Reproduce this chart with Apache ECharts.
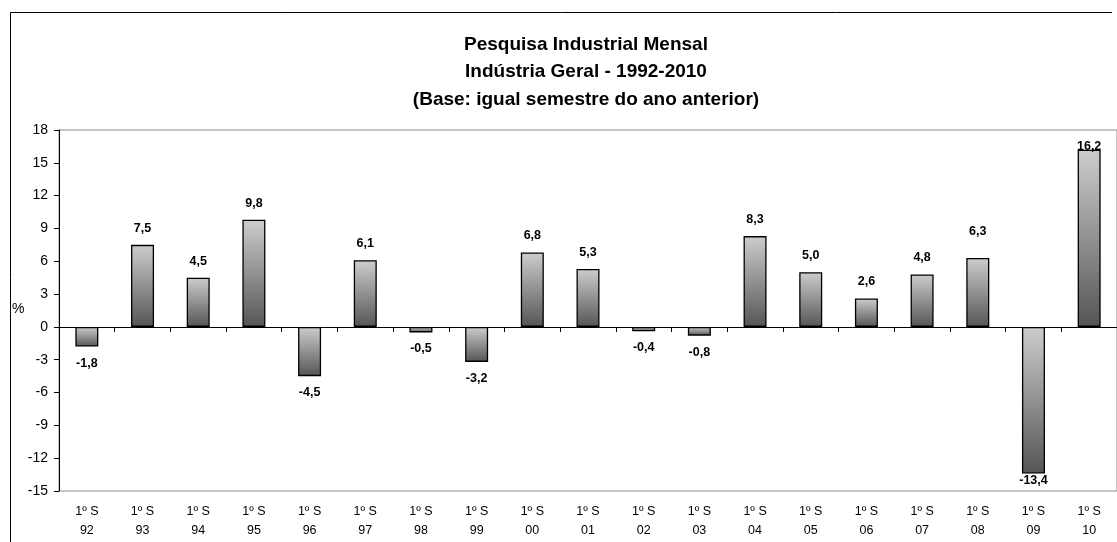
<!DOCTYPE html>
<html>
<head>
<meta charset="utf-8">
<script src="https://cdn.jsdelivr.net/npm/echarts@6/dist/echarts.min.js"></script>
<style>
html,body{margin:0;padding:0;background:#fff;}
#chart{width:1117px;height:542px;}
</style>
</head>
<body>
<div id="chart"></div>
<script>
var categories = ['92','93','94','95','96','97','98','99','00','01','02','03','04','05','06','07','08','09','10'];
var values = [-1.8, 7.5, 4.5, 9.8, -4.5, 6.1, -0.5, -3.2, 6.8, 5.3, -0.4, -0.8, 8.3, 5.0, 2.6, 4.8, 6.3, -13.4, 16.2];
var yTicks = [18, 15, 12, 9, 6, 3, 0, -3, -6, -9, -12, -15];
var titleLines = ['Pesquisa Industrial Mensal', 'Indústria Geral - 1992-2010', '(Base: igual semestre do ano anterior)'];

var FONT = 'Liberation Sans, Arial, sans-serif';
var labelDist = {16: 20, 17: 1, 18: -3};

var barGradient = {
  type: 'linear', x: 0, y: 0, x2: 0, y2: 1,
  colorStops: [{offset: 0, color: '#cdcdcd'}, {offset: 1, color: '#555555'}]
};

var seriesData = values.map(function (v, i) {
  return {
    value: v,
    label: {
      position: v >= 0 ? 'top' : 'bottom',
      distance: labelDist.hasOwnProperty(i) ? labelDist[i] : 10
    }
  };
});

var chart = echarts.init(document.getElementById('chart'));
chart.setOption({
  animation: false,
  backgroundColor: '#ffffff',
  textStyle: {fontFamily: FONT},
  title: {
    text: titleLines.join('\n'),
    left: 581,
    top: 26,
    textAlign: 'center',
    textStyle: {fontFamily: FONT, fontSize: 19, fontWeight: 'bold', color: '#000', lineHeight: 27.5}
  },
  graphic: [
    {type: 'line', shape: {x1: 10.5, y1: 12.5, x2: 1112, y2: 12.5}, style: {stroke: '#000', lineWidth: 1}, z: 100},
    {type: 'line', shape: {x1: 10.5, y1: 12.5, x2: 10.5, y2: 542}, style: {stroke: '#000', lineWidth: 1}, z: 100},
    {type: 'text', left: 12, top: 302, style: {text: '%', font: '14px ' + FONT, fill: '#000'}}
  ],
  grid: {
    left: 59, top: 130, right: -2, bottom: 51,
    show: true, borderColor: '#8c8c8c', borderWidth: 1, backgroundColor: 'transparent'
  },
  xAxis: [
    {
      type: 'category', data: categories, position: 'bottom',
      axisLine: {onZero: true, lineStyle: {color: '#000', width: 1}},
      axisTick: {show: true, length: 5, alignWithLabel: false, lineStyle: {color: '#000'}},
      axisLabel: {show: false},
      splitLine: {show: false},
      z: 10
    },
    {
      type: 'category', data: categories, position: 'bottom',
      axisLine: {show: false, onZero: false},
      axisTick: {show: false},
      axisLabel: {
        show: true, margin: 11, fontSize: 12.5, lineHeight: 19, color: '#000', fontFamily: FONT,
        formatter: function (v) { return '1º S\n' + v; }
      },
      splitLine: {show: false}
    }
  ],
  yAxis: {
    type: 'value', min: -15, max: 18, interval: 3,
    axisLine: {show: true, lineStyle: {color: '#000', width: 1}},
    axisTick: {show: true, length: 5, lineStyle: {color: '#000'}},
    axisLabel: {
      fontSize: 14, color: '#000', margin: 11, fontFamily: FONT,
      formatter: function (v) { return yTicks.indexOf(v) >= 0 ? String(v) : ''; }
    },
    splitLine: {show: false}
  },
  series: [{
    type: 'bar',
    xAxisIndex: 0,
    data: seriesData,
    barWidth: 23,
    itemStyle: {color: barGradient, borderColor: '#000', borderWidth: 1.3},
    label: {
      show: true, fontSize: 12.5, fontWeight: 'bold', color: '#000', fontFamily: FONT,
      formatter: function (p) { return p.value.toFixed(1).replace('.', ','); }
    },
    z: 5
  }]
});
</script>
</body>
</html>
